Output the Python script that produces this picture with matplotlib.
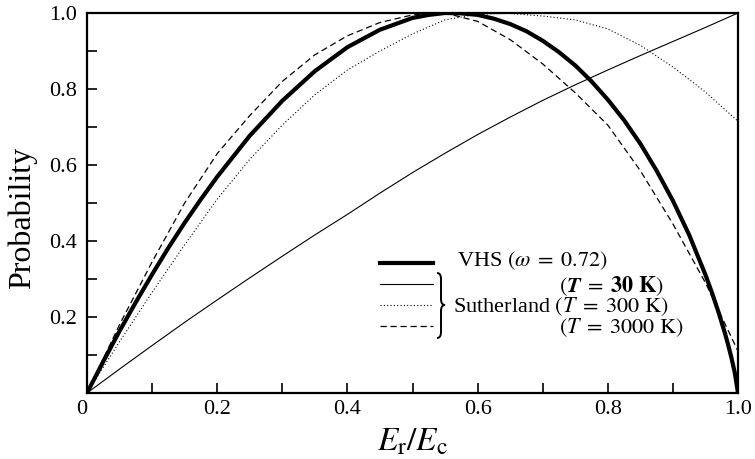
import matplotlib
matplotlib.use("Agg")
import matplotlib.pyplot as plt
from matplotlib.path import Path
from matplotlib.patches import PathPatch
from matplotlib.lines import Line2D
from matplotlib.ticker import MultipleLocator

plt.rcParams['font.family'] = ['Liberation Serif', 'DejaVu Serif']
plt.rcParams['mathtext.fontset'] = 'stix'

# energy ratio Er/Ec and probabilities
vhs_x = [0, 0.025, 0.05, 0.075, 0.1, 0.125, 0.15, 0.175, 0.2, 0.25, 0.3, 0.35, 0.4,
         0.45, 0.5, 0.525, 0.55, 0.575, 0.6, 0.625, 0.65, 0.675, 0.7, 0.725, 0.75,
         0.775, 0.8, 0.825, 0.85, 0.875, 0.9, 0.925, 0.95, 0.96, 0.97, 0.98, 0.985,
         0.99, 0.995, 1.0]
vhs_p = [0, 0.083, 0.163, 0.239, 0.312, 0.382, 0.448, 0.510, 0.569, 0.677, 0.769,
         0.847, 0.910, 0.956, 0.987, 0.995, 1.000, 0.999, 0.995, 0.985, 0.971, 0.952,
         0.927, 0.897, 0.862, 0.820, 0.772, 0.718, 0.656, 0.585, 0.506, 0.416, 0.311,
         0.264, 0.213, 0.157, 0.126, 0.092, 0.054, 0]

suth_x = [0, 0.05, 0.1, 0.15, 0.2, 0.25, 0.3, 0.35, 0.4, 0.45, 0.5, 0.55, 0.6, 0.65,
          0.7, 0.75, 0.8, 0.85, 0.9, 0.95, 1.0]
suth_30 = [0, 0.063, 0.125, 0.186, 0.245, 0.303, 0.36, 0.416, 0.47, 0.526, 0.58, 0.631,
           0.68, 0.726, 0.77, 0.811, 0.85, 0.888, 0.925, 0.962, 1.0]
suth_300 = [0, 0.135, 0.265, 0.39, 0.51, 0.615, 0.705, 0.785, 0.85, 0.90, 0.945, 0.982,
            0.997, 0.999, 0.992, 0.982, 0.958, 0.915, 0.858, 0.792, 0.715]
suth_3000 = [0, 0.18, 0.345, 0.50, 0.63, 0.73, 0.82, 0.89, 0.94, 0.975, 0.995, 1.0,
             0.978, 0.93, 0.866, 0.79, 0.705, 0.585, 0.445, 0.29, 0.11]

W, H = 755, 459
fig = plt.figure(figsize=(W / 100, H / 100), dpi=100)
ax = fig.add_axes([87 / W, 1 - 393 / H, (738 - 87) / W, (393 - 13) / H])

ax.plot(vhs_x, vhs_p, color='black', lw=3.0, solid_joinstyle='round')
ax.plot(suth_x, suth_30, color='black', lw=0.8)
ax.plot(suth_x, suth_300, color='black', lw=0.8, ls=(0, (1, 2)))
ax.plot(suth_x, suth_3000, color='black', lw=0.9, ls=(0, (5, 3)))

ax.set_xlim(0, 1)
ax.set_ylim(0, 1)
ax.xaxis.set_minor_locator(MultipleLocator(0.1))
ax.yaxis.set_minor_locator(MultipleLocator(0.1))
ax.set_xticks([0, 0.2, 0.4, 0.6, 0.8, 1.0])
ax.set_xticklabels(['0', '0.2', '0.4', '0.6', '0.8', '1.0'])
ax.set_yticks([0.2, 0.4, 0.6, 0.8, 1.0])
ax.set_yticklabels(['0.2', '0.4', '0.6', '0.8', '1.0'])
ax.tick_params(which='both', direction='in', length=7, width=1.2, labelsize=16)
ax.tick_params(axis='y', pad=7)
ax.tick_params(axis='x', pad=5)
ax.get_xticklabels()[0].set_horizontalalignment('right')
for s in ax.spines.values():
    s.set_linewidth(1.6)

ax.set_xlabel(r'$E_\mathrm{r}/E_\mathrm{c}$', fontsize=24, labelpad=6)
ax.set_ylabel('Probability', fontsize=23)
ax.yaxis.set_label_coords(-0.076, 0.46)

# legend drawn by hand, in figure pixels
def fx(px):
    return px / W

def fy(py):
    return 1 - py / H

samples = [(263, dict(lw=3.0)), (284, dict(lw=0.8)),
           (305, dict(lw=0.8, ls=(0, (1, 2)))), (326, dict(lw=0.9, ls=(0, (5, 3))))]
for py, kw in samples:
    fig.add_artist(Line2D([fx(380), fx(433)], [fy(py), fy(py)], color='black',
                          transform=fig.transFigure, **kw))

fig.text(fx(457), fy(261), r'VHS $(\omega\;=\;0.72)$', fontsize=16, va='center')
fig.text(fx(559), fy(286), r'$(\boldsymbol{T}\;=\;\mathbf{30\ K})$', fontsize=16, va='center')
fig.text(fx(453), fy(307), r'Sutherland $(T\;=\;300\ \mathrm{K})$', fontsize=16, va='center')
fig.text(fx(559), fy(328), r'$(T\;=\;3000\ \mathrm{K})$', fontsize=16, va='center')

# curly brace
x0, w = 437, 8
yt, ym, yb, r = 273, 305, 338, 6
xm = x0 + w / 2
pts = [(x0, yt), (xm, yt), (xm, yt + r), (xm, ym - r), (xm, ym), (x0 + w, ym),
       (xm, ym), (xm, ym + r), (xm, yb - r), (xm, yb), (x0, yb)]
codes = [Path.MOVETO, Path.CURVE3, Path.CURVE3, Path.LINETO, Path.CURVE3, Path.CURVE3,
         Path.CURVE3, Path.CURVE3, Path.LINETO, Path.CURVE3, Path.CURVE3]
brace = Path([(fx(a), fy(b)) for a, b in pts], codes)
fig.add_artist(PathPatch(brace, fill=False, lw=1.4, color='black',
                         transform=fig.transFigure))

fig.savefig('out.png', dpi=100)
